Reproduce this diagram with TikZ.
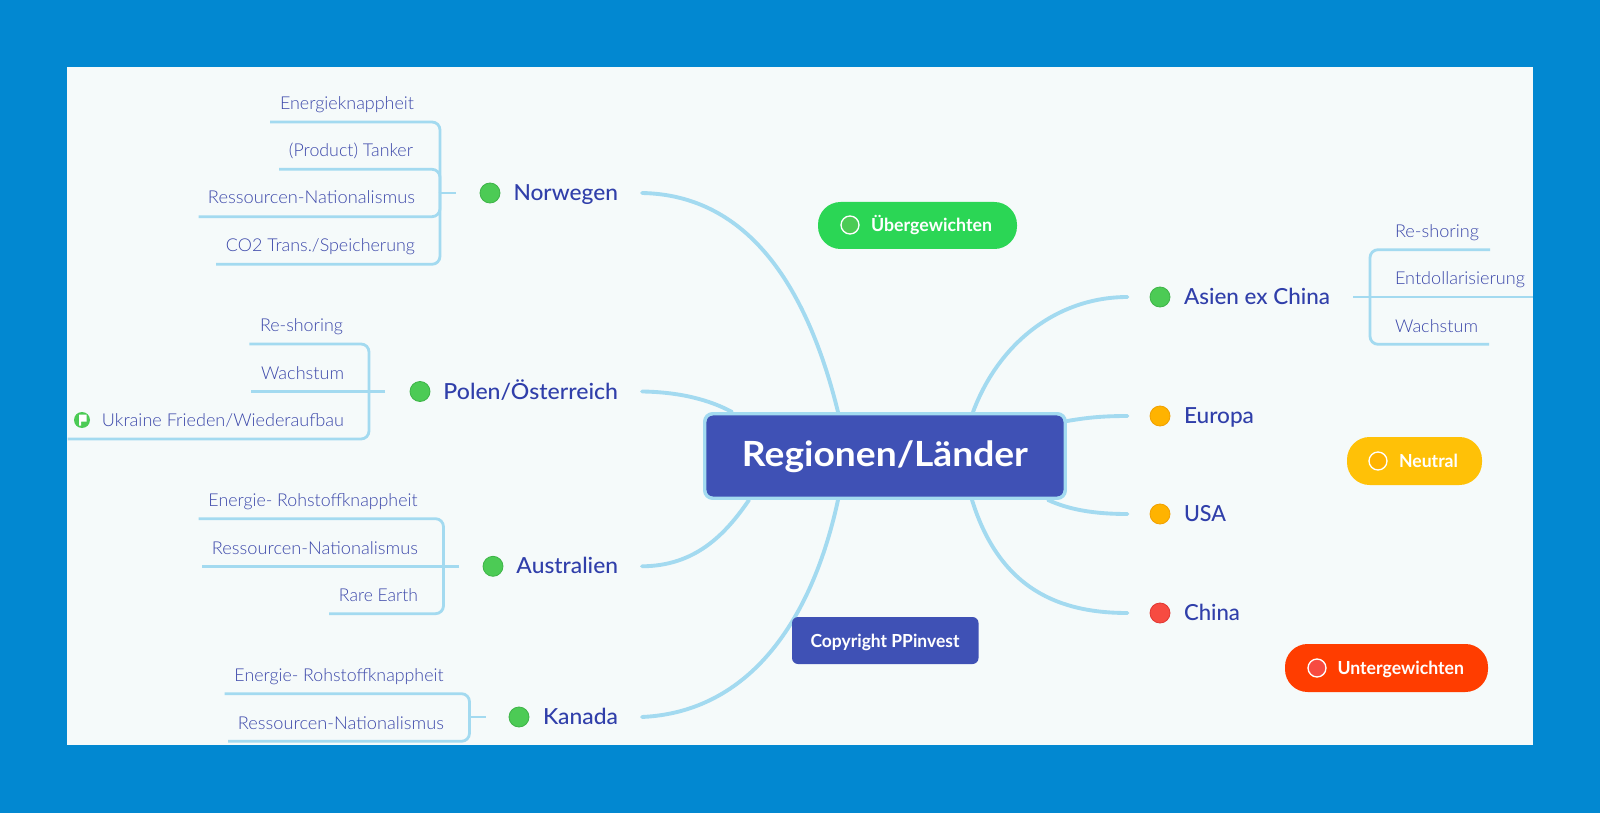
\documentclass[tikz,border=0pt]{standalone}
\usepackage{fontspec}
\usepackage{graphicx}
\setmainfont{Lato}
\newfontfamily\leaffont{Lato Light}
\newfontfamily\midfont{Lato Medium}
\usetikzlibrary{backgrounds,positioning}
\newlength\pxu \setlength\pxu{0.75pt}
\newcommand\fitx[2]{\resizebox{#1\pxu}{\height}{#2}}
\definecolor{bgblue}{RGB}{2,136,209}
\definecolor{panel}{RGB}{245,250,250}
\definecolor{linec}{RGB}{163,218,240}
\definecolor{indigo}{RGB}{63,81,181}
\definecolor{maintxt}{RGB}{48,63,170}
\definecolor{leaftxt}{RGB}{60,72,170}
\definecolor{dgreen}{RGB}{76,203,85}
\definecolor{dgreenb}{RGB}{62,180,72}
\definecolor{dorange}{RGB}{255,179,0}
\definecolor{dorangeb}{RGB}{240,160,0}
\definecolor{dred}{RGB}{247,75,65}
\definecolor{dredb}{RGB}{225,55,50}
\definecolor{pgreen}{RGB}{43,214,85}
\definecolor{pyellow}{RGB}{255,193,7}
\definecolor{pred}{RGB}{255,61,0}
\tikzset{
  leaf/.style={anchor=mid east,yshift=-2.4pt,inner sep=0pt,outer sep=0pt,text=leaftxt,font=\leaffont\fontsize{13.3}{15}\selectfont},
  leafl/.style={anchor=mid west,yshift=-2.4pt,inner sep=0pt,outer sep=0pt,text=leaftxt,font=\leaffont\fontsize{13.3}{15}\selectfont},
  mainr/.style={anchor=mid east,yshift=-3.2pt,inner sep=0pt,outer sep=0pt,text=maintxt,font=\midfont\fontsize{16.6}{18}\selectfont},
  mainl/.style={anchor=mid west,yshift=-3.2pt,inner sep=0pt,outer sep=0pt,text=maintxt,font=\midfont\fontsize{16.6}{18}\selectfont},
  dot/.style={circle,inner sep=0pt,outer sep=0pt,minimum size=15pt,line width=0.6pt},
  gdot/.style={dot,fill=dgreen,draw=dgreenb},
  odot/.style={dot,fill=dorange,draw=dorangeb},
  rdot/.style={dot,fill=dred,draw=dredb},
  pdot/.style={circle,inner sep=0pt,outer sep=0pt,minimum size=13.5pt,draw=white,line width=1pt},
  pilltxt/.style={anchor=mid west,yshift=-2.4pt,inner sep=0pt,outer sep=0pt,text=white,font=\bfseries\fontsize{13.5}{15}\selectfont},
  pill/.style={inner sep=0pt,outer sep=0pt,rounded corners=17pt},
  branch/.style={draw=linec,line width=2.9pt,line cap=round},
  twig/.style={draw=linec,line width=2.1pt,rounded corners=6pt},
}
\begin{document}
\begin{tikzpicture}[x=0.75pt,y=-0.75pt]
\useasboundingbox (0,0) rectangle (1600,813);

% centre
\node[draw=linec,fill=indigo,line width=2.6pt,rounded corners=6pt,minimum width=360.5\pxu,minimum height=84.5\pxu,inner sep=0pt,outer sep=1.3pt] (root) at (885,456) {};
\node[inner sep=0pt,text=white,font=\bfseries\fontsize{26}{28}\selectfont,anchor=mid,yshift=-6pt] (rootlabel) at (885,455) {\fitx{286}{Regionen/Länder}};

% right-hand main nodes
\node[gdot] (dAsien) at (1160,297) {};
\node[mainl] (tAsien) at (1184,297) {\fitx{146}{Asien ex China}};
\node[odot] (dEuropa) at (1160,416) {};
\node[mainl] (tEuropa) at (1184,416) {\fitx{70}{Europa}};
\node[odot] (dUSA) at (1160,514) {};
\node[mainl] (tUSA) at (1184,514) {\fitx{42}{USA}};
\node[rdot] (dChina) at (1160,613) {};
\node[mainl] (tChina) at (1184,613) {\fitx{56}{China}};

% left-hand main nodes
\node[gdot] (dNor) at (490,193) {};
\node[mainr] (tNor) at (618,193) {\fitx{104.5}{Norwegen}};
\node[gdot] (dPol) at (420,391.5) {};
\node[mainr] (tPol) at (618,391.5) {\fitx{174.5}{Polen/Österreich}};
\node[gdot] (dAus) at (493,566.3) {};
\node[mainr] (tAus) at (618,566.3) {\fitx{101.5}{Australien}};
\node[gdot] (dKan) at (519,717) {};
\node[mainr] (tKan) at (618,717) {\fitx{75}{Kanada}};

% leaves Norwegen
\node[leaf] (n1) at (414,102.5) {\fitx{134}{Energieknappheit}};
\node[leaf] (n2) at (413,150) {\fitx{124}{(Product) Tanker}};
\node[leaf] (n3) at (415,197) {\fitx{207}{Ressourcen-Nationalismus}};
\node[leaf] (n4) at (415,245) {\fitx{189}{CO2 Trans./Speicherung}};
% leaves Polen
\node[leaf] (p1) at (343,325) {\fitx{83}{Re-shoring}};
\node[leaf] (p2) at (344,372.5) {\fitx{83}{Wachstum}};
\node[leaf] (p3) at (344,420) {\fitx{242}{Ukraine Frieden/Wiederaufbau}};
\node[circle,fill=dgreen,inner sep=0pt,minimum size=12pt] (flag) at (82,420) {};
\fill[white] (79,425.5) -- (79,414.5) -- (86.5,414.5) -- (86.5,421.5) -- (81,421.5) -- (81,425.5) -- cycle;
% leaves Australien
\node[leaf] (a1) at (417.5,500) {\fitx{209}{Energie- Rohstoffknappheit}};
\node[leaf] (a2) at (418,547.5) {\fitx{206}{Ressourcen-Nationalismus}};
\node[leaf] (a3) at (418,595) {\fitx{79}{Rare Earth}};
% leaves Kanada
\node[leaf] (k1) at (443.5,675) {\fitx{209}{Energie- Rohstoffknappheit}};
\node[leaf] (k2) at (444,722.5) {\fitx{206}{Ressourcen-Nationalismus}};
% leaves Asien
\node[leafl] (s1) at (1395,231) {\fitx{84}{Re-shoring}};
\node[leafl] (s2) at (1395,278) {\fitx{130}{Entdollarisierung}};
\node[leafl] (s3) at (1395,326) {\fitx{83}{Wachstum}};

% legend
\node[pill,fill=pgreen,minimum width=199\pxu,minimum height=47\pxu] (pUeber) at (917.5,225.5) {};
\node[pdot,fill=dgreen] (pdUeber) at (850,225) {};
\node[pilltxt] (ptUeber) at (871,225) {\fitx{121}{Übergewichten}};
\node[pill,fill=pyellow,minimum width=135\pxu,minimum height=48\pxu] (pNeutral) at (1414.5,461) {};
\node[pdot,fill=dorange] (pdNeutral) at (1378,461) {};
\node[pilltxt] (ptNeutral) at (1399,461) {\fitx{59}{Neutral}};
\node[pill,fill=pred,minimum width=203\pxu,minimum height=48\pxu] (pUnter) at (1386.5,668) {};
\node[pdot,fill=dred] (pdUnter) at (1317,668) {};
\node[pilltxt] (ptUnter) at (1337.5,668) {\fitx{126.5}{Untergewichten}};
\node[fill=indigo,rounded corners=4.5pt,minimum width=186.5\pxu,minimum height=47\pxu,inner sep=0pt] (copy) at (885.25,640.5) {};
\node[inner sep=0pt,text=white,font=\bfseries\fontsize{13.5}{15}\selectfont,anchor=mid,yshift=-2.4pt] (copyt) at (885,640.5) {\fitx{149}{Copyright PPinvest}};

% named connector ends
\coordinate (eNor) at (642,193);
\coordinate (ePol) at (642,391.5);
\coordinate (eAus) at (642,566.3);
\coordinate (eKan) at (642,717);
\coordinate (eAsien) at (1127.5,297);
\coordinate (eEuropa) at (1127.5,416);
\coordinate (eUSA) at (1127.5,514);
\coordinate (eChina) at (1127.5,613);

\begin{scope}[on background layer]
\fill[bgblue] (0,0) rectangle (1600,813);
\fill[panel] (67,67) rectangle (1533,745);
% branches
\draw[branch] (eNor) .. controls (750,195) and (808,290) .. ([xshift=-47\pxu]root.north);
\draw[branch] (ePol) .. controls (680,392) and (710,400) .. ([xshift=-153\pxu]root.north);
\draw[branch] (eAus) .. controls (695,566) and (725,535) .. ([xshift=-136\pxu]root.south);
\draw[branch] (eKan) .. controls (750,712) and (812,620) .. ([xshift=-47\pxu]root.south);
\draw[branch] (eAsien) .. controls (1060,297) and (1000,340) .. ([xshift=88\pxu]root.north);
\draw[branch] (eEuropa) .. controls (1100,416) and (1085,418) .. ([yshift=-9\pxu]root.north east);
\draw[branch] (eUSA) .. controls (1095,514) and (1070,510) .. ([xshift=-19\pxu]root.south east);
\draw[branch] (eChina) .. controls (1060,613) and (1000,590) .. ([xshift=87\pxu]root.south);
% twigs
\coordinate (jNor) at (440,193);
\coordinate (jPol) at (369,391.5);
\coordinate (jAus) at (443.5,566.3);
\coordinate (jKan) at (469.5,717);
\coordinate (jAsien) at (1370,297);
\draw[twig] (jNor) |- (270,122);
\draw[twig] (jNor) |- (279,169.3);
\draw[twig] (jNor) |- (198.5,216.7);
\draw[twig] (jNor) |- (216,264.3);
\draw[twig] (jNor) -- (456,193);
\draw[twig] (jPol) |- (249.4,344);
\draw[twig] (385,391.5) -- (250.6,391.5);
\draw[twig] (jPol) |- (67.6,439);
\draw[twig] (jAus) |- (198.5,518.7);
\draw[twig] (459,566.3) -- (202,566.3);
\draw[twig] (jAus) |- (329,613.7);
\draw[twig] (jKan) |- (224.5,693.7);
\draw[twig] (jKan) |- (228,741.3);
\draw[twig] (jKan) -- (485.5,717);
\draw[twig] (jAsien) |- (1490,249.7);
\draw[twig] (1353,297) -- (1533,297);
\draw[twig] (jAsien) |- (1489,344.3);
\end{scope}
\end{tikzpicture}
\end{document}
